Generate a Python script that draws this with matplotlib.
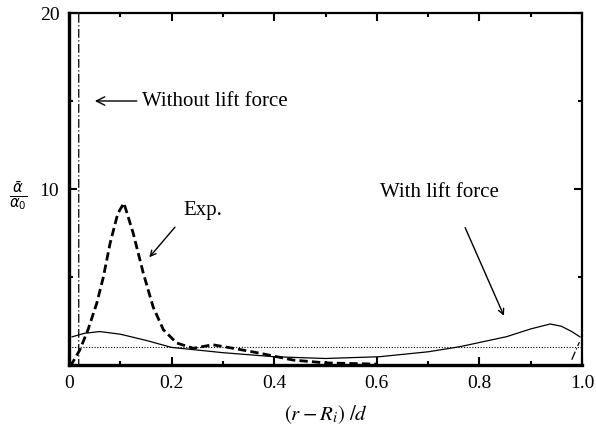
import numpy as np
import matplotlib
matplotlib.use("Agg")
import matplotlib.pyplot as plt

plt.rcParams['font.family'] = ['Liberation Serif', 'DejaVu Serif']
plt.rcParams['mathtext.fontset'] = 'stix'

# Experimental void-fraction profile
exp_x = [0.0, 0.006, 0.021, 0.037, 0.054, 0.067, 0.08, 0.095, 0.107, 0.125, 0.145,
         0.164, 0.184, 0.21, 0.242, 0.28, 0.32, 0.372, 0.437, 0.5, 0.6]
exp_y = [0.0, 0.1, 0.85, 2.0, 3.5, 5.0, 6.9, 8.6, 9.2, 7.5, 5.2,
         3.3, 2.0, 1.25, 0.95, 1.15, 0.95, 0.67, 0.28, 0.12, 0.05]

# Simulation with lift force
lift_x = [0.006, 0.03, 0.06, 0.1, 0.15, 0.2, 0.3, 0.4, 0.5, 0.605, 0.7, 0.762,
          0.853, 0.9, 0.938, 0.96, 0.98, 0.996]
lift_y = [1.6, 1.8, 1.9, 1.75, 1.4, 1.0, 0.7, 0.47, 0.37, 0.47, 0.75, 1.04,
          1.61, 2.05, 2.33, 2.2, 1.9, 1.6]

# Simulation without lift force: bubbles pile up against the walls
# (NaN splits the inner-wall spike from the outer-wall rise)
nolift_x = [0.019, 0.019, np.nan, 0.98, 0.995]
nolift_y = [60.0, 0.0, np.nan, 0.3, 1.3]

ref_level = 1.0

fig = plt.figure(figsize=(5.96, 4.28), dpi=100)
ax = fig.add_axes([69 / 596, 1 - 365 / 428, 513 / 596, 352 / 428])

ax.plot(nolift_x, nolift_y, color='black', lw=0.9, ls=(0, (7, 2, 1, 2)))
ax.plot(lift_x, lift_y, color='black', lw=0.9)
ax.plot(exp_x, exp_y, color='black', lw=2.0, ls=(0, (3, 1.5)))
ax.axhline(ref_level, color='black', lw=0.8, ls=(0, (1, 1.5)))

ax.set_xlim(0, 1.0)
ax.set_ylim(0, 20)
ax.set_xticks([0, 0.2, 0.4, 0.6, 0.8, 1.0])
ax.set_xticklabels(['0', '0.2', '0.4', '0.6', '0.8', '1.0'])
ax.set_xticks([0.1, 0.3, 0.5, 0.7, 0.9], minor=True)
ax.set_yticks([0, 10, 20])
ax.set_yticklabels(['', '10', '20'])
ax.set_yticks([5, 15], minor=True)
ax.tick_params(which='both', direction='in', top=True, right=True,
               labelsize=14, width=1.5)
ax.tick_params(which='major', length=6, pad=7)
ax.tick_params(which='minor', length=3)
for side in ['top', 'right']:
    ax.spines[side].set_linewidth(1.6)
for side in ['left', 'bottom']:
    ax.spines[side].set_linewidth(2.4)

ax.set_xlabel(r'$(r - R_i)\ /d$', fontsize=15, labelpad=8)
fig.text(18 / 596, 1 - 196 / 428, r'$\frac{\bar{\alpha}}{\alpha_0}$',
         fontsize=15, ha='center', va='center', math_fontfamily='dejavusans')

arrow = dict(arrowstyle='->', color='black', lw=1.0)
ax.annotate('Without lift force', xy=(0.045, 15), xytext=(0.143, 15),
            fontsize=15, va='center', ha='left', arrowprops=arrow)
ax.annotate('', xy=(0.153, 6.0), xytext=(0.21, 7.95), arrowprops=arrow)
ax.text(0.222, 8.8, 'Exp.', fontsize=15, va='center', ha='left')
ax.annotate('', xy=(0.85, 2.65), xytext=(0.77, 7.95), arrowprops=arrow)
ax.text(0.606, 9.8, 'With lift force', fontsize=15, va='center', ha='left')

fig.savefig('out.png', dpi=100)
